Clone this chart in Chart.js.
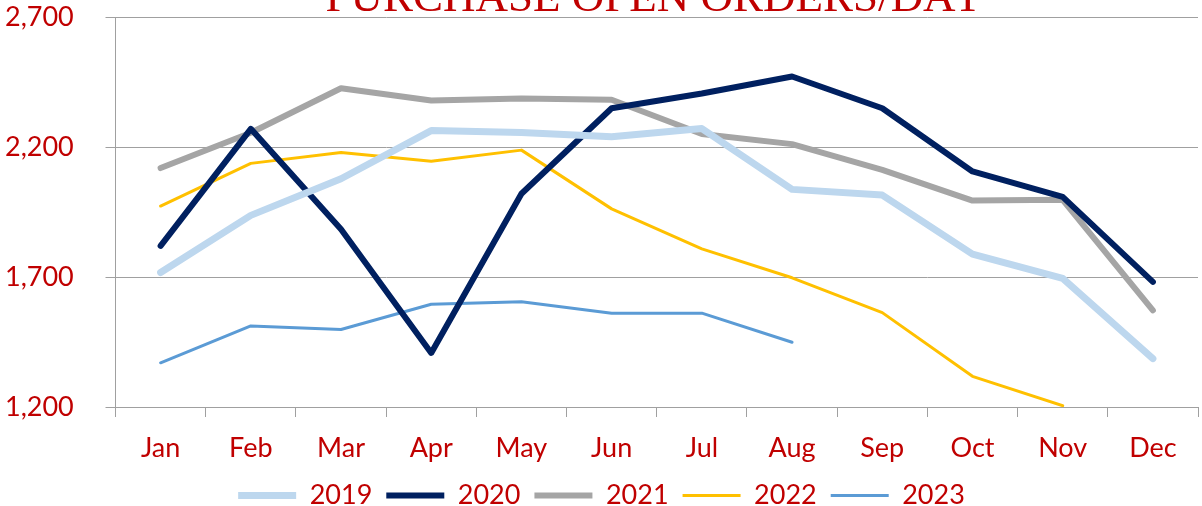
<!DOCTYPE html>
<html>
<head>
<meta charset="utf-8">
<script src="https://cdn.jsdelivr.net/npm/chart.js@4/dist/chart.umd.min.js"></script>
<style>
html,body{margin:0;padding:0;background:#fff;}
canvas{display:block;}
</style>
</head>
<body>
<canvas id="c" width="1202" height="506"></canvas>
<script>
const months = ['Jan','Feb','Mar','Apr','May','Jun','Jul','Aug','Sep','Oct','Nov','Dec'];
const yTicks = [1200, 1700, 2200, 2700];
const titleText = 'PURCHASE OPEN ORDERS/DAY';
const s2019 = [1717,1937,2078,2263,2256,2239,2271,2037,2015,1788,1695,1386];
const s2020 = [1820,2270,1884,1408,2020,2349,2406,2471,2349,2106,2008,1681];
const s2021 = [2119,2255,2426,2379,2387,2382,2250,2211,2112,1994,1997,1572];
const s2022 = [1973,2137,2179,2145,2188,1962,1808,1697,1563,1318,1205,null];
const s2023 = [1370,1512,1498,1595,1605,1561,1561,1449,null,null,null,null];

const RED = '#C00000';
const GRID = '#A0A0A0';
const FONT = 'Lato, "Open Sans", sans-serif';

function ds(label, data, color, width) {
  return {label, data, borderColor: color, backgroundColor: color, borderWidth: width,
    pointRadius: 0, pointHoverRadius: 0, tension: 0, borderCapStyle: 'round', borderJoinStyle: 'round',
    spanGaps: false, fill: false};
}

const titlePlugin = {
  id: 'topTitle',
  afterDraw(chart) {
    const {ctx, chartArea} = chart;
    ctx.save();
    ctx.font = '45px "Liberation Serif", "Times New Roman", serif';
    ctx.fillStyle = RED;
    ctx.textAlign = 'center';
    ctx.textBaseline = 'alphabetic';
    ctx.fillText(titleText, (chartArea.left + chartArea.right) / 2 - 2, 11);
    ctx.restore();
  }
};

new Chart(document.getElementById('c'), {
  type: 'line',
  data: {
    labels: months,
    datasets: [
      ds('2019', s2019, '#BDD7EE', 7),
      ds('2020', s2020, '#002060', 6),
      ds('2021', s2021, '#A5A5A5', 6),
      ds('2022', s2022, '#FFC000', 3),
      ds('2023', s2023, '#5B9BD5', 3)
    ]
  },
  options: {
    responsive: false,
    animation: false,
    layout: {padding: {top: 17, right: 4, bottom: -13, left: 5}},
    plugins: {
      legend: {
        position: 'bottom',
        labels: {
          usePointStyle: true,
          pointStyle: 'line',
          pointStyleWidth: 58,
          color: RED,
          font: {family: FONT, size: 27},
          padding: 14
        }
      },
      tooltip: {enabled: false},
      title: {display: false}
    },
    scales: {
      x: {
        offset: true,
        grid: {display: true, offset: true, drawOnChartArea: false, color: GRID, tickLength: 10, lineWidth: 1},
        border: {color: GRID, width: 1},
        ticks: {color: RED, font: {family: FONT, size: 27}, padding: 15, maxRotation: 0, autoSkip: false},
        afterFit(scale) { scale.height = 61; }
      },
      y: {
        min: 1200, max: 2700,
        afterBuildTicks(scale) { scale.ticks = yTicks.map(v => ({value: v})); },
        grid: {color: GRID, tickLength: 10, lineWidth: 1},
        border: {color: GRID, width: 1},
        ticks: {color: RED, font: {family: FONT, size: 27}, padding: 0, crossAlign: 'far',
          callback: v => v.toLocaleString('en-US')},
        afterFit(scale) { scale.width = 110.5; }
      }
    }
  },
  plugins: [titlePlugin]
});
</script>
</body>
</html>
